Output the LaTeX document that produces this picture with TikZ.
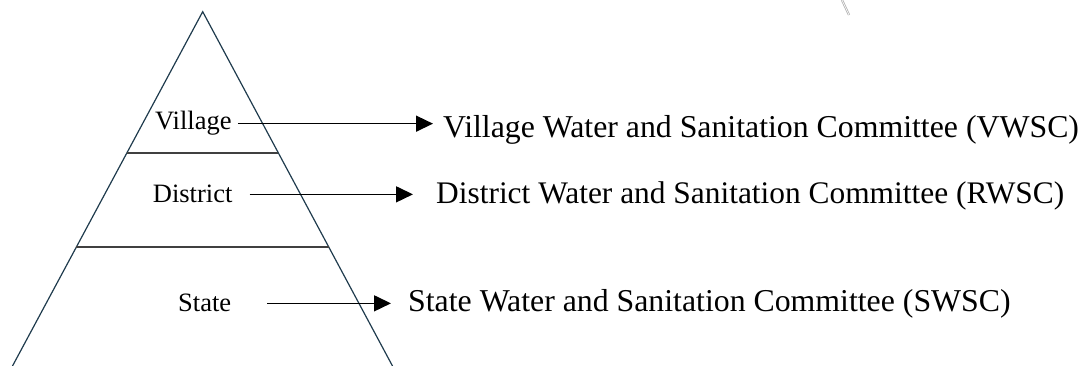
\documentclass[tikz,border=0pt]{standalone}
\usepackage{fontspec}
\setmainfont{Liberation Serif}
\usetikzlibrary{calc,arrows.meta}
\tikzset{
  edge/.style={draw={rgb,255:red,31;green,59;blue,77}, line width=1.2pt},
  tier/.style={draw={rgb,255:red,64;green,64;blue,64}, line width=2pt},
  lvl/.style={inner sep=0pt, anchor=base west, font=\fontsize{26.5}{30}\selectfont},
  cmte/.style={inner sep=0pt, anchor=base west, font=\fontsize{31.4}{36}\selectfont},
  arr/.style={line width=1.5pt, -{Triangle[length=17pt,width=16pt]}}
}
\begin{document}
\begin{tikzpicture}[x=1pt,y=-1pt]
  \useasboundingbox (0,0) rectangle (1082,366);
  \coordinate (apex) at (202.7,11.7);
  \coordinate (bl) at (12.5,366);
  \coordinate (br) at (392.5,366);
  \draw[edge] (bl) -- (apex) -- (br);
  \draw[tier] ($(apex)!0.3988!(bl)$) -- ($(apex)!0.3988!(br)$);
  \draw[tier] ($(apex)!0.6641!(bl)$) -- ($(apex)!0.6641!(br)$);
  \node[lvl] (villagelbl) at (155,130) {Village};
  \node[lvl] (districtlbl) at (152.7,203) {District};
  \node[lvl] (statelbl) at (178,312) {State};
  \node[cmte,font=\fontsize{31.8}{36}\selectfont] (vwsc) at (443,138) {Village Water and Sanitation Committee (VWSC)};
  \node[cmte] (dwsc) at (436,204) {District Water and Sanitation Committee (RWSC)};
  \node[cmte,font=\fontsize{31.8}{36}\selectfont] (swsc) at (408,312) {State Water and Sanitation Committee (SWSC)};
  \draw[arr,shorten <=6pt,shorten >=10pt] (villagelbl.east) -- (villagelbl.east -| vwsc.west);
  \draw[arr,shorten <=17pt,shorten >=23pt] (districtlbl.east) -- (districtlbl.east -| dwsc.west);
  \draw[arr,shorten <=36pt,shorten >=17pt] (statelbl.east) -- (statelbl.east -| swsc.west);
  \draw[gray!60, double, line width=0.8pt] (842,0) -- (849,15);
\end{tikzpicture}
\end{document}
